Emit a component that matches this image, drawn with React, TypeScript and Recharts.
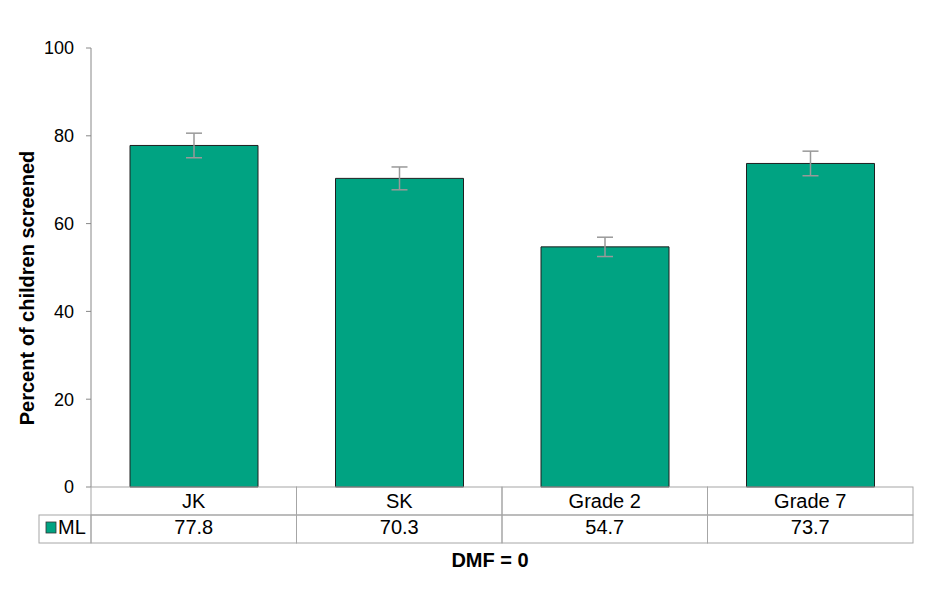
import React from 'react';
import { Bar, BarChart, ErrorBar, XAxis, YAxis } from 'recharts';

const grades = ['JK', 'SK', 'Grade 2', 'Grade 7'];
const mlValues = [77.8, 70.3, 54.7, 73.7];
const mlErrors = [2.8, 2.6, 2.2, 2.8];
const yTicks = [0, 20, 40, 60, 80, 100];
const seriesName = 'ML';

const chartData = grades.map((g, i) => ({ name: g, ml: mlValues[i], err: mlErrors[i] }));

const W = 930;
const H = 603;
const M = { top: 48, right: 17, bottom: 60, left: 31 };
const Y_W = 60;
const X_H = 56;
const cellW = (W - M.left - Y_W - M.right) / grades.length;
const rowH = 28;
const green = '#00A382';
const gridGrey = '#a6a6a6';
const font = 'Arial, "Liberation Sans", sans-serif';

// draws the data table under the bars, one column per tick
const TableTick = (props: any) => {
  const { x, y, payload, index } = props;
  const left = x - cellW / 2;
  return (
    <g fontFamily={font}>
      <rect x={left} y={y} width={cellW} height={rowH} fill="none" stroke={gridGrey} />
      <rect x={left} y={y + rowH} width={cellW} height={rowH} fill="none" stroke={gridGrey} />
      <text x={x} y={y + 21} textAnchor="middle" fontSize={20} fill="#000">{payload.value}</text>
      <text x={x} y={y + rowH + 19} textAnchor="middle" fontSize={20} fill="#000">
        {mlValues[index].toFixed(1)}
      </text>
      {index === 0 && (
        <g>
          <rect x={left - 52} y={y + rowH} width={52} height={rowH} fill="none" stroke={gridGrey} />
          <rect x={left - 45} y={y + rowH + 7} width={10} height={11} fill={green} stroke="#333" strokeWidth={0.8} />
          <text x={left - 33} y={y + rowH + 19} fontSize={20} fill="#000">{seriesName}</text>
        </g>
      )}
    </g>
  );
};

export default function App() {
  return (
    <div style={{ position: 'absolute', left: 0, top: 0, width: W, height: H, background: '#fff' }}>
      <BarChart width={W} height={H} data={chartData} margin={M}>
        <XAxis
          dataKey="name"
          height={X_H}
          axisLine={false}
          tickLine={false}
          tickSize={0}
          tickMargin={0}
          interval={0}
          tick={<TableTick />}
          label={() => (
            <text x={490} y={567} textAnchor="middle" fontFamily={font} fontSize={20} fontWeight="bold" fill="#000">
              DMF = 0
            </text>
          )}
        />
        <YAxis
          width={Y_W}
          domain={[0, 100]}
          ticks={yTicks}
          axisLine={{ stroke: '#888' }}
          tickLine={{ stroke: '#888' }}
          tickSize={5}
          tickMargin={12}
          tick={{ fill: '#000', fontSize: 18, fontFamily: font }}
          label={() => (
            <text
              x={27}
              y={288}
              transform="rotate(-90, 27, 288)"
              textAnchor="middle"
              dominantBaseline="central"
              fontFamily={font}
              fontSize={20}
              fontWeight="bold"
              fill="#000"
            >
              Percent of children screened
            </text>
          )}
        />
        <Bar dataKey="ml" fill={green} stroke="#1f1f1f" strokeWidth={1} barSize={128} isAnimationActive={false}>
          <ErrorBar dataKey="err" width={8} stroke="#999" strokeWidth={1.5} direction="y" />
        </Bar>
      </BarChart>
    </div>
  );
}
